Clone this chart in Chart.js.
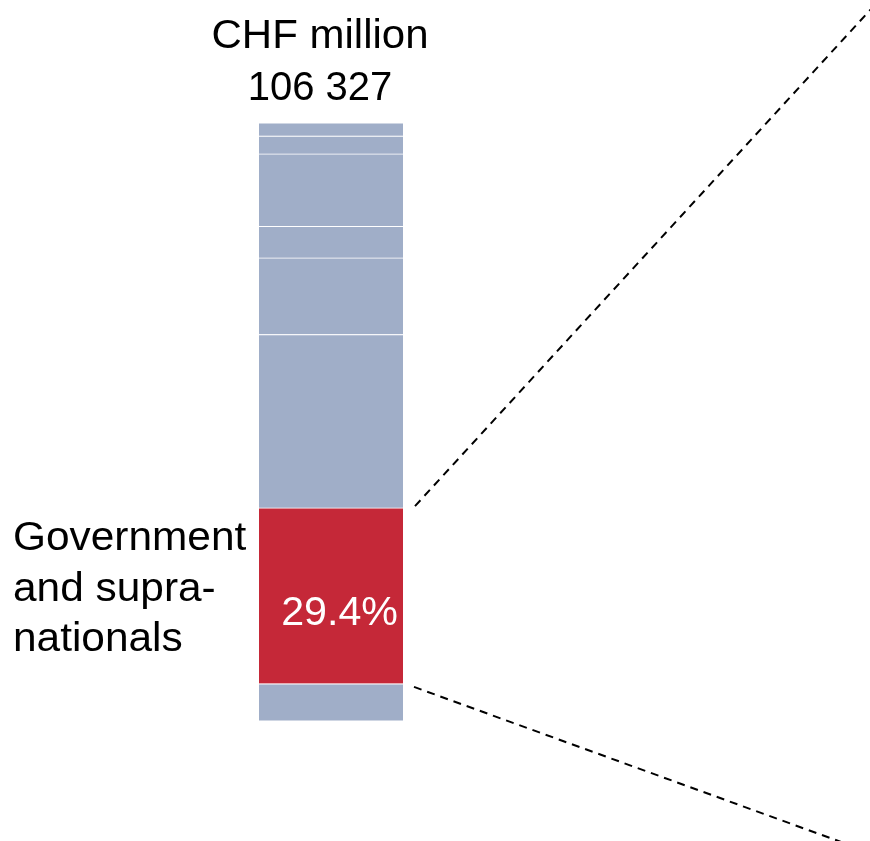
<!DOCTYPE html>
<html>
<head>
<meta charset="utf-8">
<script src="https://cdn.jsdelivr.net/npm/chart.js@4.4.1/dist/chart.umd.min.js"></script>
<style>
  html, body { margin: 0; padding: 0; background: #fff; }
</style>
</head>
<body>
<canvas id="chart" width="870" height="841"></canvas>
<script>
// Portfolio split in %, from the bottom of the column to the top
const categories = ["Portfolio"];
const segmentLabels = ["", "Government and supranationals", "", "", "", "", "", ""];
const segmentShares = [6.2, 29.4, 29.0, 12.8, 5.3, 12.1, 3.0, 2.2];
const highlightIndex = 1;

const totalLines = ["CHF million", "106 327"];
const highlightLines = ["Government", "and supra-", "nationals"];

const BLUE = "#a0aec8";
const RED = "#c52838";
const FONT = "40px 'Liberation Sans', Arial, sans-serif";

const datasets = segmentShares.map((v, i) => ({
    label: segmentLabels[i],
    data: [v],
    backgroundColor: i === highlightIndex ? RED : BLUE,
    borderColor: "#ffffff",
    borderWidth: { top: 0.8, bottom: 0.8, left: 0, right: 0 },
    borderSkipped: false,
    barPercentage: 1,
    categoryPercentage: 1
}));

// text drawn slightly wider than the font's natural width
function wideText(ctx, text, x, y, align, sx) {
    ctx.save();
    ctx.translate(x, y);
    ctx.scale(sx, 1);
    ctx.textAlign = align;
    ctx.fillText(text, 0, 0);
    ctx.restore();
}

// texts around the column + the dashed "zoom" lines leaving the red block
const annotations = {
    id: "annotations",
    afterDatasetsDraw(chart) {
        const ctx = chart.ctx;
        const top = chart.getDatasetMeta(segmentShares.length - 1).data[0];
        const red = chart.getDatasetMeta(highlightIndex).data[0];
        const right = red.x + red.width / 2;

        ctx.save();
        ctx.font = FONT;
        ctx.fillStyle = "#000";
        ctx.textBaseline = "alphabetic";

        // header
        wideText(ctx, totalLines[0], top.x - 11, top.y - 75, "center", 1.05);
        wideText(ctx, totalLines[1], top.x - 11, top.y - 23, "center", 1.0);

        // name of the highlighted segment, left of the column
        highlightLines.forEach((t, i) => {
            wideText(ctx, t, 13, red.y + 42 + i * 50.5, "left", 1.06);
        });

        // share inside the red block
        ctx.fillStyle = "#fff";
        wideText(ctx, segmentShares[highlightIndex].toFixed(1) + "%", right - 5, (red.y + red.base) / 2 + 29, "right", 1.03);

        // dashed lines
        ctx.strokeStyle = "#000";
        ctx.lineWidth = 2;
        ctx.setLineDash([8, 6]);
        const x0 = right + 12;
        ctx.beginPath();
        ctx.moveTo(x0, red.y - 2);
        ctx.lineTo(x0 + 470, red.y - 2 - 470 * 1.09);
        ctx.stroke();
        ctx.beginPath();
        ctx.moveTo(x0 - 1, red.base + 3);
        ctx.lineTo(x0 - 1 + 470, red.base + 3 + 470 * 0.363);
        ctx.stroke();
        ctx.restore();
    }
};

new Chart(document.getElementById("chart").getContext("2d"), {
    type: "bar",
    data: { labels: categories, datasets: datasets },
    options: {
        responsive: false,
        animation: false,
        layout: { padding: { left: 259, right: 467, top: 123, bottom: 120 } },
        scales: {
            x: { display: false, stacked: true },
            y: { display: false, stacked: true, min: 0, max: 100 }
        },
        plugins: {
            legend: { display: false },
            tooltip: { enabled: false }
        }
    },
    plugins: [annotations]
});
</script>
</body>
</html>
